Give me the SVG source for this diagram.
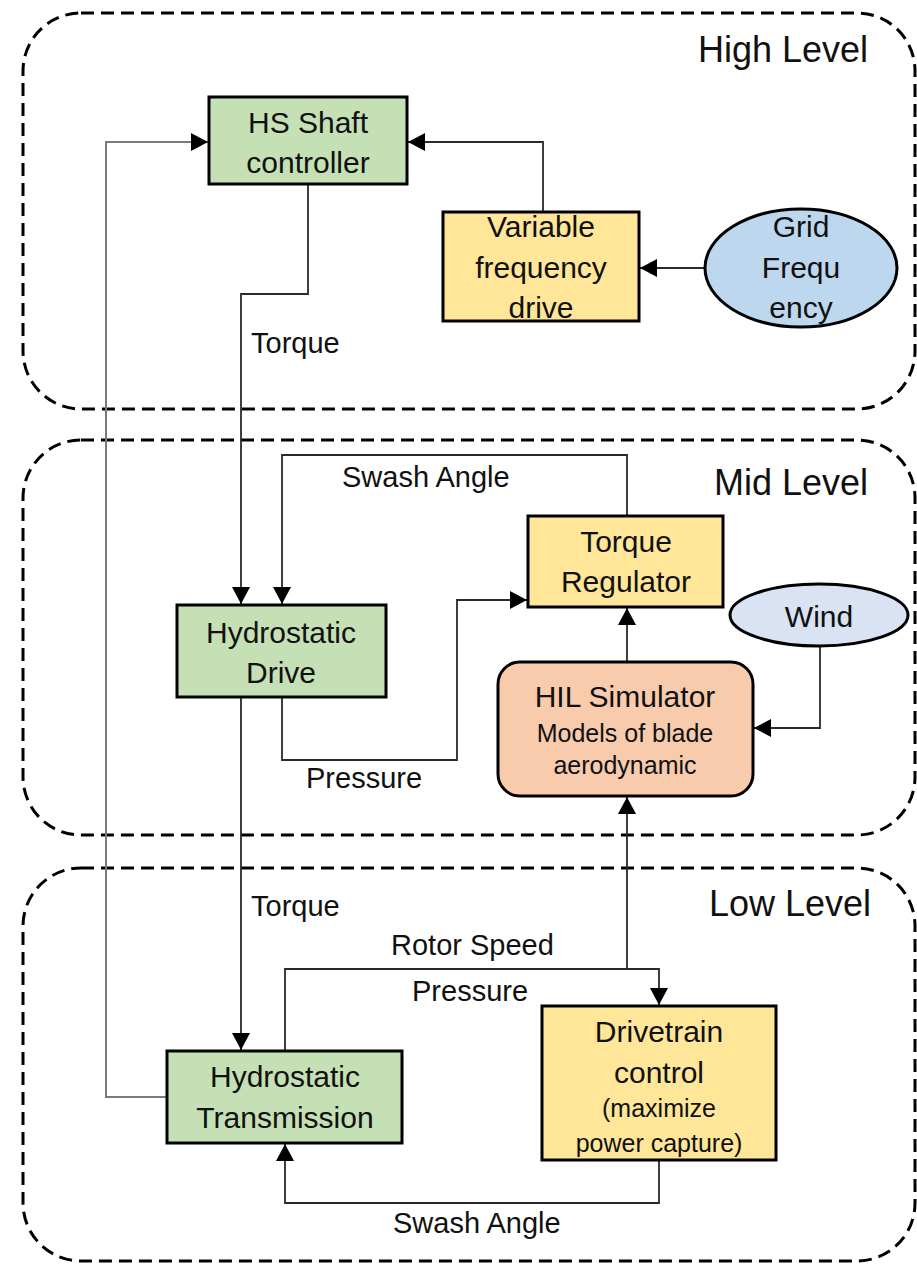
<svg xmlns="http://www.w3.org/2000/svg" width="917" height="1265" viewBox="0 0 917 1265">
<style>
.lvl{fill:none;stroke:#000;stroke-width:3;stroke-dasharray:13 7}
.box{stroke:#000;stroke-width:3}
.green{fill:#c5e0b4}
.yellow{fill:#ffe699}
.blue{fill:#bdd7ee}
.wind{fill:#dae3f3}
.hil{fill:#f8cbad}
text{font-family:"Liberation Sans",Arial,sans-serif;fill:#111}
.t{font-size:30px;text-anchor:middle}
.s{font-size:25px;text-anchor:middle}
.lab{font-size:29px}
.title{font-size:36px;text-anchor:end}
.c{fill:none;stroke:#2a2a2a;stroke-width:1.8}
.g{stroke:#7a7a7a;stroke-width:2}
</style>
<defs>
<marker id="arr" viewBox="0 0 17 18" refX="17" refY="9" markerWidth="17" markerHeight="18" markerUnits="userSpaceOnUse" orient="auto">
<path d="M0,0 L17,9 L0,18 z" fill="#000"/>
</marker>
</defs>
<rect width="917" height="1265" fill="#fff"/>
<g id="levels">
<rect class="lvl" x="23" y="13" width="892" height="396" rx="58"/>
<rect class="lvl" x="23" y="440" width="892" height="395" rx="58"/>
<rect class="lvl" x="23" y="868" width="892" height="393" rx="58"/>
<text class="title" x="868" y="62">High Level</text>
<text class="title" x="868" y="495">Mid Level</text>
<text class="title" x="871" y="916">Low Level</text>
</g>
<g id="connectors">
<path class="c g" d="M167,1097 H106 V142 H208" marker-end="url(#arr)"/>
<path class="c" d="M543,212 V142 H408" marker-end="url(#arr)"/>
<path class="c" d="M705,268 H640" marker-end="url(#arr)"/>
<path class="c" d="M308,184 V294 H241 V604" marker-end="url(#arr)"/>
<path class="c" d="M627,516 V455 H282 V604" marker-end="url(#arr)"/>
<path class="c" d="M282,697 V760 H457 V600 H527" marker-end="url(#arr)"/>
<path class="c" d="M627,662 V608" marker-end="url(#arr)"/>
<path class="c" d="M820,647 V728 H754" marker-end="url(#arr)"/>
<path class="c" d="M241,697 V1050" marker-end="url(#arr)"/>
<path class="c" d="M285,1051 V969 H659 V1005" marker-end="url(#arr)"/>
<path class="c" d="M627,969 V797" marker-end="url(#arr)"/>
<path class="c" d="M659,1160 V1203 H285 V1144" marker-end="url(#arr)"/>
<text class="lab" x="251" y="353">Torque</text>
<text class="lab" x="342" y="487">Swash Angle</text>
<text class="lab" x="306" y="788">Pressure</text>
<text class="lab" x="251" y="916">Torque</text>
<text class="lab" x="391" y="955">Rotor Speed</text>
<text class="lab" x="412" y="1001">Pressure</text>
<text class="lab" x="393" y="1233">Swash Angle</text>
</g>
<g id="hs-shaft">
<rect class="box green" x="209" y="97" width="198" height="87"/>
<text class="t" x="308" y="133">HS Shaft</text>
<text class="t" x="308" y="173">controller</text>
</g>
<g id="vfd">
<rect class="box yellow" x="443" y="212" width="196" height="109"/>
<text class="t" x="541" y="237">Variable</text>
<text class="t" x="541" y="278">frequency</text>
<text class="t" x="541" y="318">drive</text>
</g>
<g id="grid">
<ellipse class="box blue" cx="801" cy="268" rx="96" ry="59"/>
<text class="t" x="801" y="237">Grid</text>
<text class="t" x="801" y="278">Frequ</text>
<text class="t" x="801" y="318">ency</text>
</g>
<g id="torque-regulator">
<rect class="box yellow" x="528" y="516" width="195" height="91"/>
<text class="t" x="626" y="552">Torque</text>
<text class="t" x="626" y="592">Regulator</text>
</g>
<g id="hydrostatic-drive">
<rect class="box green" x="177" y="605" width="209" height="92"/>
<text class="t" x="281" y="643">Hydrostatic</text>
<text class="t" x="281" y="683">Drive</text>
</g>
<g id="wind">
<ellipse class="box wind" cx="819" cy="615" rx="89" ry="31"/>
<text class="t" x="819" y="627">Wind</text>
</g>
<g id="hil">
<rect class="box hil" x="498" y="662" width="255" height="134" rx="22"/>
<text class="t" x="625" y="707">HIL Simulator</text>
<text class="s" x="625" y="742">Models of blade</text>
<text class="s" x="625" y="774">aerodynamic</text>
</g>
<g id="hydrostatic-transmission">
<rect class="box green" x="167" y="1051" width="235" height="92"/>
<text class="t" x="285" y="1087">Hydrostatic</text>
<text class="t" x="285" y="1128">Transmission</text>
</g>
<g id="drivetrain">
<rect class="box yellow" x="542" y="1006" width="234" height="154"/>
<text class="t" x="659" y="1042">Drivetrain</text>
<text class="t" x="659" y="1083">control</text>
<text class="s" x="659" y="1117">(maximize</text>
<text class="s" x="659" y="1152">power capture)</text>
</g>
</svg>
